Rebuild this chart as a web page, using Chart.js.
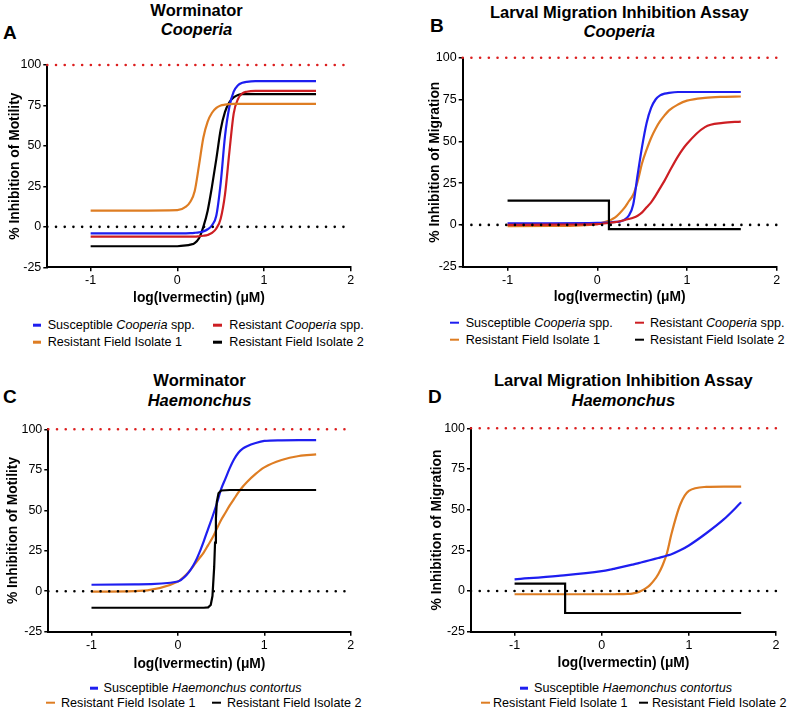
<!DOCTYPE html>
<html>
<head>
<meta charset="utf-8">
<script src="https://cdn.jsdelivr.net/npm/chart.js@4.4.1/dist/chart.umd.min.js"></script>
<style>
body{margin:0;background:#fff;width:789px;height:711px;position:relative;overflow:hidden;font-family:"Liberation Sans",Arial,sans-serif;color:#000}
canvas{position:absolute}
.ttl{position:absolute;font-weight:bold;font-size:16.5px;line-height:1;white-space:nowrap;transform:translate(-50%,-50%)}
.ltr{position:absolute;font-weight:bold;font-size:19px;line-height:1;transform:translateY(-50%)}
.lg{position:absolute;font-size:12.6px;line-height:1;white-space:nowrap;transform:translateY(-50%)}
.mk{position:absolute;width:8.5px;height:2.6px;transform:translateY(-50%)}
</style>
</head>
<body>
<canvas id="grafico_a"></canvas>
<canvas id="grafico_b"></canvas>
<canvas id="grafico_c"></canvas>
<canvas id="grafico_d"></canvas>
<script>
/* valores, log(ivermectin) no eixo x */
const xGrid = [-1, -0.5, 0, 0.1, 0.15, 0.2, 0.25, 0.3, 0.35, 0.4, 0.45, 0.5, 0.55, 0.6, 0.65, 0.7, 0.75, 0.8, 0.9, 1.0, 1.2, 1.4, 1.6];
const xTicks = [-1, 0, 1, 2];
const yTicks = [-25, 0, 25, 50, 75, 100];
const refLevels = [100, 0];

// A - Worminator Cooperia
const blueA = [-4, -4, -4, -4, -3.9, -3.7, -3.4, -2.8, -1.5, 1, 7, 27, 56, 74, 83.5, 87.5, 89, 89.6, 90, 90, 90, 90, 90];
const redA = [-6, -6, -6, -6, -6, -6, -5.8, -5.5, -5, -3.8, -1, 5, 20, 46, 70, 79, 82.5, 83.5, 84, 84, 84, 84, 84];
const orangeA = [10, 10, 10.3, 12.5, 15.5, 22, 38, 55, 65, 70.5, 73.5, 75, 75.5, 75.8, 76, 76, 76, 76, 76, 76, 76, 76, 76];
const blackA = [-12, -12, -12, -11.5, -11, -10, -7, 0, 10, 25, 42, 60, 71, 77, 80, 81.5, 82, 82, 82, 82, 82, 82, 82];

// B - Larval Migration Cooperia
const blueB = [1, 1, 1.2, 1.4, 1.6, 1.8, 2, 3, 5.5, 12, 30, 47, 61, 70, 75, 77.5, 78.5, 79, 79.5, 79.5, 79.5, 79.5, 79.5];
const redB = [0, 0.2, 0.5, 1, 1.3, 1.7, 2.2, 2.8, 3.5, 4.3, 5.5, 7.5, 10.5, 13.5, 17.5, 22, 26.5, 31.5, 41, 48.5, 58.5, 61, 61.8];
const orangeB = [-0.7, -0.6, 0.5, 2, 3, 4.5, 7, 10, 14, 18, 26, 37, 45, 52, 57.5, 62, 65.5, 68.5, 72, 74.3, 76, 76.6, 76.8];
const blackB_x = [-1, 0.13, 0.13, 1.6];
const blackB = [14.5, 14.5, -2.5, -2.5];

// C - Worminator Haemonchus
const blueC = [4, 4.2, 6, 10, 13.5, 18, 24, 31, 38.5, 46, 54, 63, 69.5, 76, 81.5, 85.5, 88, 89.5, 91.5, 92.8, 93.2, 93.3, 93.3];
const orangeC = [-0.3, 0, 6, 10.5, 13.5, 17, 20.5, 24, 28.5, 33, 38.5, 44, 48.5, 53, 57, 61, 64.5, 67.5, 72.5, 76.5, 81, 83.5, 84.5];
const blackC_x = [-1, 0.3, 0.35, 0.38, 0.4, 0.42, 0.43, 0.44, 0.45, 0.47, 0.5, 0.6, 1.6];
const blackC = [-10.2, -10.2, -10, -8.5, -3, 15, 30, 45, 55, 60.5, 62.2, 62.5, 62.5];

// D - Larval Migration Haemonchus
const blueD = [7.2, 9.3, 12.2, 13.2, 13.8, 14.4, 15, 15.6, 16.2, 16.8, 17.5, 18.2, 18.9, 19.6, 20.3, 21, 21.8, 22.6, 25, 28, 35.5, 44, 54.5];
const orangeD = [-2, -2, -2, -2, -2, -1.9, -1.9, -1.8, -1.6, -1, 0, 1.5, 3.5, 6.5, 10.5, 16, 23.5, 35, 53, 61.5, 64, 64.2, 64.2];
const blackD_x = [-1, -0.42, -0.42, 1.6];
const blackD = [4.5, 4.5, -13.5, -13.5];

const AZUL = 'rgb(30, 30, 240)';
const VERMELHO = 'rgb(205, 30, 35)';
const LARANJA = 'rgb(222, 125, 35)';
const PRETO = '#000';

function pontos(xs, ys) {
    return xs.map((x, i) => ({x: x, y: ys[i]}));
}

function curva(ys, cor) {
    return {data: pontos(xGrid, ys), borderColor: cor, borderWidth: 2.2, cubicInterpolationMode: 'monotone', clip: false};
}

function degrau(xs, ys) {
    return {data: pontos(xs, ys), borderColor: PRETO, borderWidth: 2.2, clip: false};
}

function referencias() {
    return refLevels.map(v => ({
        data: [{x: -1.5, y: v}, {x: 2, y: v}],
        borderColor: v === 100 ? 'rgb(220, 30, 30)' : PRETO,
        borderWidth: 2.6,
        borderDash: [0.01, 8.7],
        borderCapStyle: 'round',
        clip: false
    }));
}

function painel(id, g, datasets, yTitulo) {
    const c = document.getElementById(id);
    c.style.left = g.left + 'px';
    c.style.top = g.top + 'px';
    c.width = g.w;
    c.height = g.h;
    const lh = 13.8 * 1.2;
    const xH = g.top + g.h - g.areaB;
    const yW = g.areaL - g.left;
    new Chart(c, {
        type: 'line',
        data: {datasets: referencias().concat(datasets)},
        options: {
            responsive: false,
            animation: false,
            layout: {padding: {left: 0, bottom: 0, top: g.areaT - g.top, right: g.left + g.w - g.areaR}},
            plugins: {legend: {display: false}, tooltip: {enabled: false}},
            elements: {point: {radius: 0}},
            scales: {
                x: {
                    type: 'linear', min: -1.5, max: 2,
                    afterBuildTicks: s => { s.ticks = xTicks.map(v => ({value: v})); },
                    afterFit: s => { s.height = xH; },
                    grid: {drawOnChartArea: false, drawTicks: true, tickLength: 4, color: '#000', lineWidth: 1.5},
                    border: {display: true, color: '#000', width: 2},
                    ticks: {color: '#000', font: {size: 12.5, family: 'Liberation Sans'}, padding: 2, maxRotation: 0},
                    title: {display: true, text: 'log(Ivermectin) (\u03bcM)', color: '#000',
                        font: {size: 13.8, weight: 'bold', family: 'Liberation Sans'},
                        padding: {top: 0, bottom: xH - (g.xTitleY - g.areaB) - lh / 2}}
                },
                y: {
                    min: -25, max: 100,
                    afterBuildTicks: s => { s.ticks = yTicks.map(v => ({value: v})); },
                    afterFit: s => { s.width = yW; },
                    grid: {drawOnChartArea: false, drawTicks: true, tickLength: 4, color: '#000', lineWidth: 1.5},
                    border: {display: true, color: '#000', width: 2},
                    ticks: {color: '#000', font: {size: 12.5, family: 'Liberation Sans'}, padding: 2},
                    title: {display: true, text: yTitulo, color: '#000',
                        font: {size: 13.8, weight: 'bold', family: 'Liberation Sans'},
                        padding: {top: g.yTitleX - g.left - lh / 2, bottom: 0}}
                }
            }
        }
    });
}

painel('grafico_a', {left: 0, top: 50, w: 362, h: 262, areaL: 47.3, areaR: 350.7, areaT: 65, areaB: 267.3, yTitleX: 15, xTitleY: 297.7},
    [curva(orangeA, LARANJA), curva(redA, VERMELHO), curva(blueA, AZUL), curva(blackA, PRETO)],
    '% Inhibition of Motility');

painel('grafico_b', {left: 415, top: 45, w: 374, h: 262, areaL: 462.7, areaR: 776.7, areaT: 57.7, areaB: 266.7, yTitleX: 435, xTitleY: 296.7},
    [degrau(blackB_x, blackB), curva(redB, VERMELHO), curva(blueB, AZUL), curva(orangeB, LARANJA)],
    '% Inhibition of Migration');

painel('grafico_c', {left: 0, top: 415, w: 362, h: 262, areaL: 48.3, areaR: 350.7, areaT: 429.3, areaB: 631.7, yTitleX: 13.3, xTitleY: 664.3},
    [degrau(blackC_x, blackC), curva(blueC, AZUL), curva(orangeC, LARANJA)],
    '% Inhibition of Motility');

painel('grafico_d', {left: 415, top: 415, w: 374, h: 262, areaL: 471, areaR: 776, areaT: 428.3, areaB: 631.7, yTitleX: 436.7, xTitleY: 663.3},
    [degrau(blackD_x, blackD), curva(blueD, AZUL), curva(orangeD, LARANJA)],
    '% Inhibition of Migration');

/* títulos, letras e legendas em html */
function texto(cls, x, y, html) {
    const d = document.createElement('div');
    d.className = cls;
    d.style.left = x + 'px';
    d.style.top = y + 'px';
    d.innerHTML = html;
    document.body.appendChild(d);
}

function itemLegenda(xm, xt, y, cor, html) {
    const m = document.createElement('div');
    m.className = 'mk';
    m.style.left = xm + 'px';
    m.style.top = y + 'px';
    m.style.background = cor;
    document.body.appendChild(m);
    texto('lg', xt, y, html);
}

texto('ttl', 196.5, 9.5, 'Worminator');
texto('ttl', 196.5, 29, '<i>Cooperia</i>');
texto('ttl', 619.3, 12, 'Larval Migration Inhibition Assay');
texto('ttl', 619.3, 31, '<i>Cooperia</i>');
texto('ttl', 199.5, 380, 'Worminator');
texto('ttl', 199.5, 399.5, '<i>Haemonchus</i>');
texto('ttl', 623.3, 380, 'Larval Migration Inhibition Assay');
texto('ttl', 623.3, 399.5, '<i>Haemonchus</i>');

texto('ltr', 3, 31.7, 'A');
texto('ltr', 430, 25, 'B');
texto('ltr', 3, 395.5, 'C');
texto('ltr', 428, 395.5, 'D');

itemLegenda(32.5, 47.7, 325, AZUL, 'Susceptible <i>Cooperia</i> spp.');
itemLegenda(213, 229.3, 325, VERMELHO, 'Resistant <i>Cooperia</i> spp.');
itemLegenda(32.5, 47.7, 342, LARANJA, 'Resistant Field Isolate 1');
itemLegenda(213, 229.3, 342, PRETO, 'Resistant Field Isolate 2');

itemLegenda(450, 465.7, 322.7, AZUL, 'Susceptible <i>Cooperia</i> spp.');
itemLegenda(635, 650, 322.7, VERMELHO, 'Resistant <i>Cooperia</i> spp.');
itemLegenda(450, 465.7, 339.5, LARANJA, 'Resistant Field Isolate 1');
itemLegenda(635, 650, 339.5, PRETO, 'Resistant Field Isolate 2');

itemLegenda(89.5, 103.5, 688.3, AZUL, 'Susceptible <i>Haemonchus contortus</i>');
itemLegenda(46, 61, 702.7, LARANJA, 'Resistant Field Isolate 1');
itemLegenda(212, 227, 702.7, PRETO, 'Resistant Field Isolate 2');

itemLegenda(519.5, 534, 688.3, AZUL, 'Susceptible <i>Haemonchus contortus</i>');
itemLegenda(481, 493, 702.7, LARANJA, 'Resistant Field Isolate 1');
itemLegenda(639, 652, 702.7, PRETO, 'Resistant Field Isolate 2');
</script>
</body>
</html>
